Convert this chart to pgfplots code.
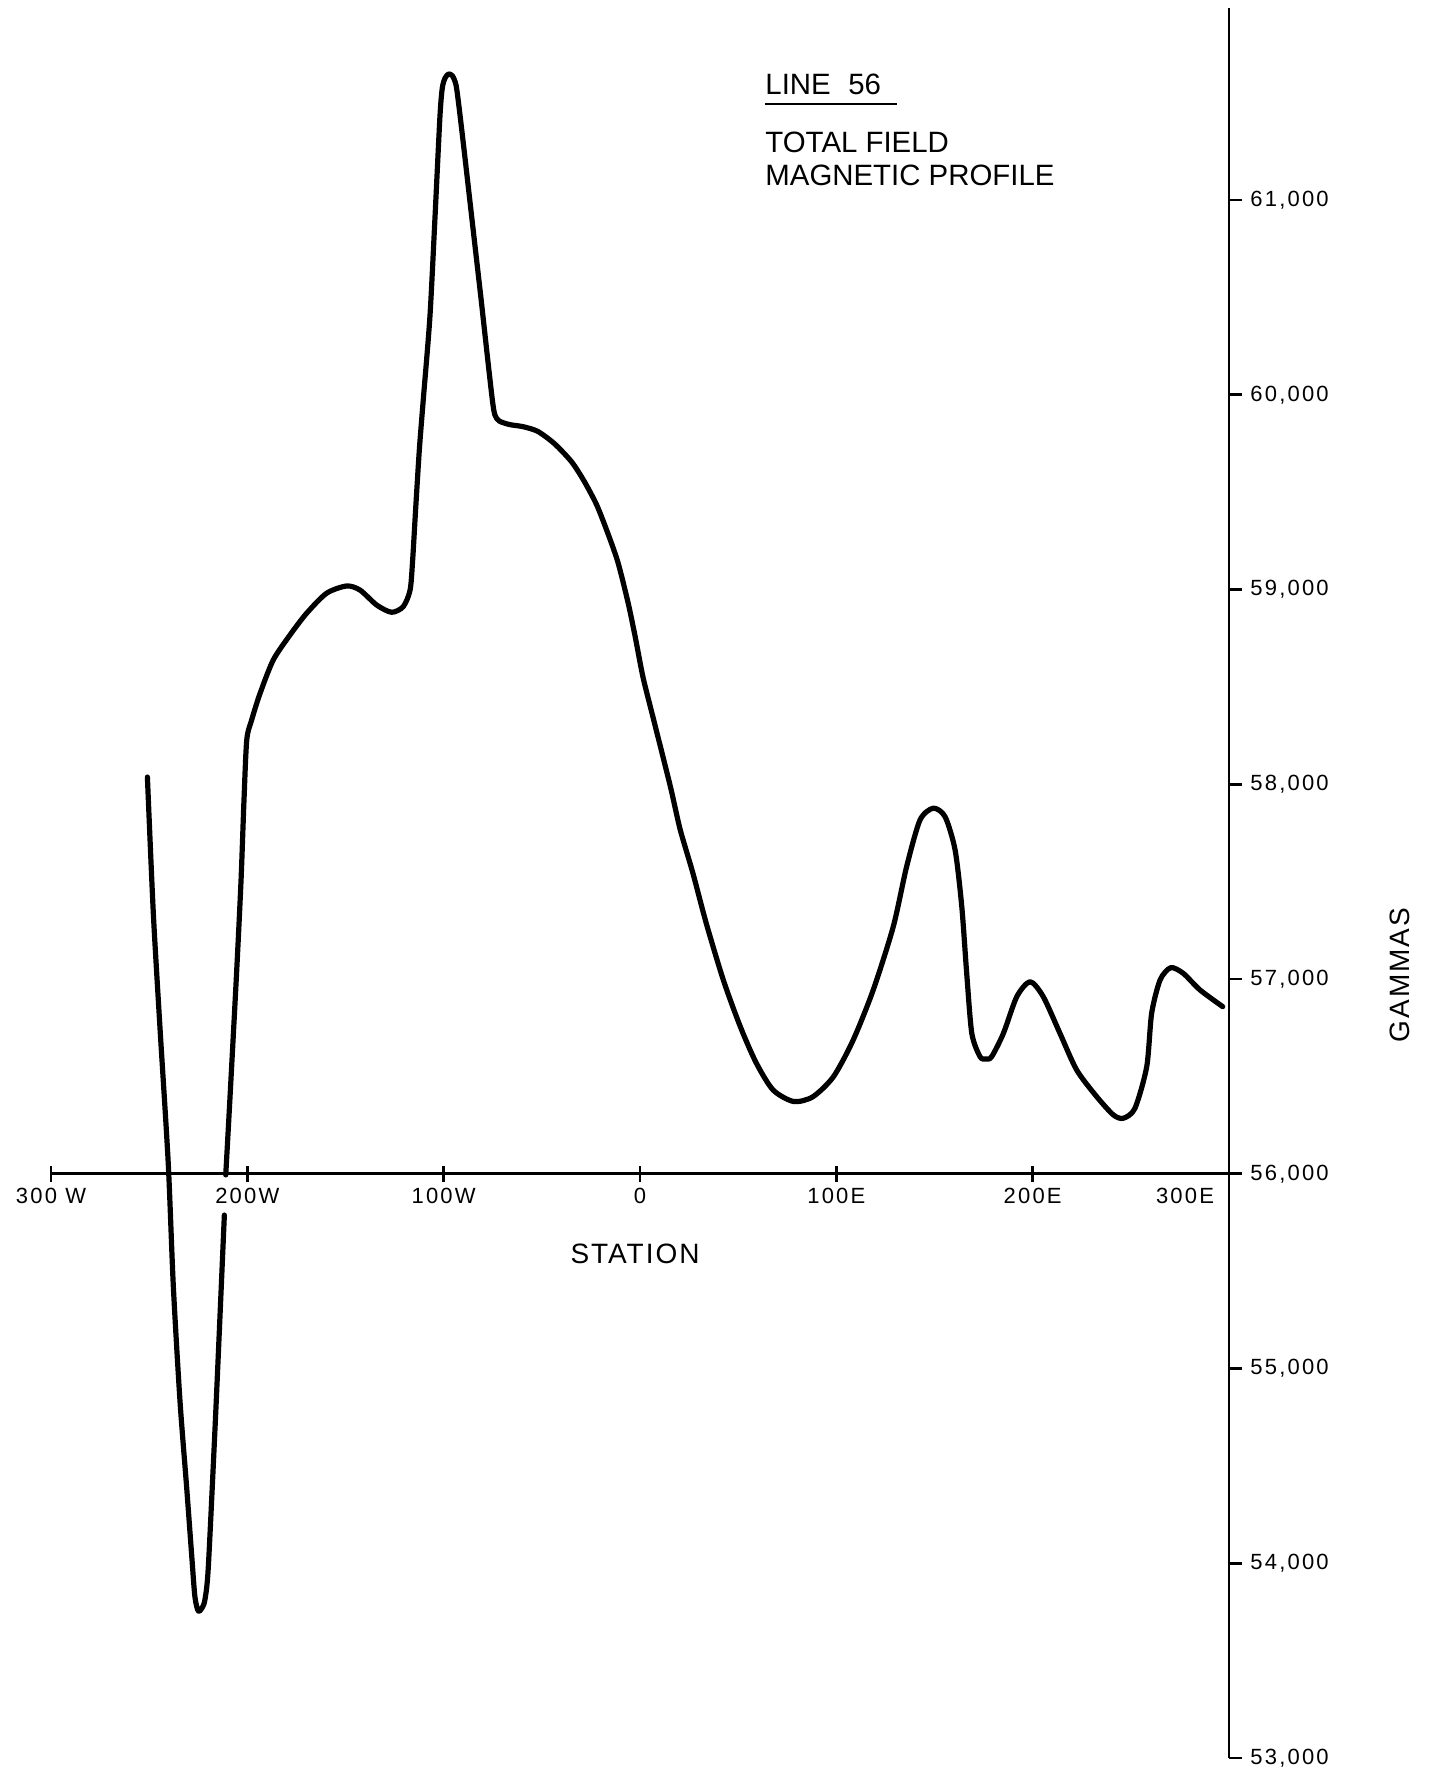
\documentclass[border=0pt]{standalone}
\usepackage{fontspec}
\setmainfont{Liberation Sans}
\newfontfamily\tickfont[LetterSpace=10]{Liberation Sans}
\newfontfamily\labfont[LetterSpace=7]{Liberation Sans}
\usepackage{pgfplots}
\pgfplotsset{compat=1.18}
\begin{document}
\begin{tikzpicture}
\begin{axis}[
  name=main,
  at={(0pt,0pt)}, anchor=south west,
  scale only axis,
  width=589pt, height=874.9pt,
  xmin=-300, xmax=300, ymin=53000, ymax=61985,
  axis x line=none,
  axis y line=right,
  axis line style={-, line width=1.3pt, black},
  ytick={53000,54000,55000,56000,57000,58000,59000,60000,61000},
  yticklabels={{53,000},{54,000},{55,000},{56,000},{57,000},{58,000},{59,000},{60,000},{61,000}},
  scaled y ticks=false,
  tick style={line width=1.3pt, black},
  major tick length=6.5pt,
  tick align=outside,
  yticklabel style={font=\tickfont\fontsize{11}{13}\selectfont, anchor=west, inner sep=0pt, xshift=4pt},
  clip=false,
  /pgf/number format/assume math mode=true,
]
\addplot[black, line width=2.6pt, line cap=round, line join=round, smooth, tension=0.45] coordinates {
(-250.9,58037) (-247.9,57341) (-244.5,56751) (-240.3,56057) (-237.7,55424) (-234.3,54833)
(-230.9,54389) (-228.3,54035) (-226.7,53828) (-225.0,53755) (-223.1,53770) (-221.6,53813)
(-219.9,53976) (-216.5,54684) (-213.9,55275) (-211.7,55788)
};
\addplot[black, line width=2.6pt, line cap=round, line join=round, smooth, tension=0.45] coordinates {
(-211.0,55994) (-208.9,56379) (-205.4,57046) (-203.2,57508) (-201.7,57919) (-200.3,58227)
(-197.8,58330) (-193.5,58467) (-186.8,58638) (-178.3,58766) (-169.8,58878) (-159.6,58981)
(-149.4,59018) (-142.6,58997) (-134.1,58920) (-126.5,58883) (-120.6,58912) (-117.1,58997)
(-115.8,59151) (-114.3,59408) (-112.4,59716) (-110.4,59973) (-107.0,60401) (-104.4,60914)
(-101.9,61428) (-100.7,61575) (-99.3,61626) (-97.5,61647) (-95.5,61637) (-93.7,61590)
(-92.2,61480) (-89.6,61257) (-86.7,61000) (-83.8,60743) (-80.9,60487) (-78.1,60230)
(-75.2,59973) (-73.9,59896) (-71.7,59865) (-66.5,59847) (-59.6,59836) (-52.1,59812)
(-43.5,59748) (-34.8,59655) (-28.5,59557) (-22.1,59435) (-16.4,59289) (-11.2,59138)
(-6.0,58929) (-2.5,58760) (1.5,58551) (6.1,58365) (11.9,58133) (15.9,57970)
(20.5,57766) (26.9,57545) (33.8,57284) (42.5,56993) (51.1,56755) (59.2,56569)
(67.8,56430) (78.2,56371) (88.0,56395) (98.5,56498) (108.6,56687) (118.8,56944)
(129.0,57269) (135.8,57577) (142.6,57816) (149.4,57877) (155.4,57833) (160.5,57662)
(163.9,57371) (166.4,57029) (169.0,56721) (173.2,56601) (176.2,56589) (179.1,56601)
(185.1,56721) (191.9,56909) (198.7,56986) (205.4,56909) (213.9,56721) (222.4,56533)
(232.6,56396) (241.1,56302) (246.2,56285) (252.1,56336) (258.1,56550) (260.6,56824)
(264.9,56995) (270.3,57058) (276.7,57029) (285.2,56944) (296.8,56858)
};
\end{axis}
\begin{axis}[
  at={(0pt,292.1pt)}, anchor=south west,
  scale only axis, width=589pt, height=50pt,
  xmin=-300, xmax=300, ymin=56000, ymax=57000,
  axis x line=bottom, axis y line=none,
  axis line style={-, line width=1.3pt, black},
  xtick={-300,-200,-100,0,100,200},
  xticklabels={{300 W},{200W},{100W},{0},{100E},{200E}},
  extra x ticks={300},
  extra x tick labels={300E},
  extra x tick style={xticklabel style={xshift=-22pt}},
  tick style={line width=1.3pt, black},
  tick align=center, major tick length=8pt,
  xticklabel style={font=\tickfont\fontsize{11}{13}\selectfont, anchor=north, inner sep=0pt, yshift=-3pt},
  clip=false,
]
\addplot[draw=none] coordinates {(0,56500)};
\end{axis}
\node[font=\labfont\fontsize{14}{16}\selectfont] at (292pt,252pt) {STATION};
\node[font=\labfont\fontsize{14}{16}\selectfont, rotate=90] at (674.5pt,391.5pt) {GAMMAS};
\node[font=\fontsize{14.7}{17}\selectfont, anchor=base west, inner sep=0pt] at (357pt,831.5pt) {LINE\hspace{0.6em}56};
\draw[line width=1.2pt, black] (357pt,827pt) -- (423pt,827pt);
\node[font=\fontsize{14.7}{17}\selectfont, anchor=base west, inner sep=0pt] at (357pt,802.5pt) {TOTAL FIELD};
\node[font=\fontsize{14.7}{17}\selectfont, anchor=base west, inner sep=0pt] at (357pt,786pt) {MAGNETIC PROFILE};
\pgfresetboundingbox
\path (-25.5pt,-8.5pt) rectangle (690pt,879pt);
\end{tikzpicture}
\end{document}
